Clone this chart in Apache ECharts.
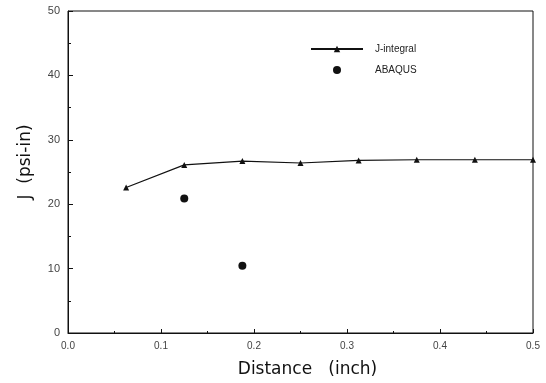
<!DOCTYPE html>
<html>
<head>
<meta charset="utf-8">
<script src="https://cdn.jsdelivr.net/npm/echarts@6/dist/echarts.min.js"></script>
<style>
  html, body { margin: 0; padding: 0; background: #fff; }
  #chart { width: 546px; height: 383px; }
</style>
</head>
<body>
<div id="chart"></div>
<script>
// J-integral along crack front vs distance
const distance = [0.0625, 0.125, 0.1875, 0.25, 0.3125, 0.375, 0.4375, 0.5];
const jIntegral = [22.6, 26.1, 26.7, 26.4, 26.8, 26.9, 26.9, 26.9];
const abaqusX = [0.125, 0.1875];
const abaqusJ = [20.9, 10.45];

const chart = echarts.init(document.getElementById('chart'));

const lineData = distance.map((d, i) => [d, jIntegral[i]]);
const dotData = abaqusX.map((d, i) => [d, abaqusJ[i]]);

const option = {
  backgroundColor: '#fff',
  animation: false,
  textStyle: {fontFamily: 'Liberation Sans'},
  grid: {
    left: 68,
    right: 13,
    top: 11,
    bottom: 50,
    show: true,
    borderColor: '#111',
    borderWidth: 1
  },
  legend: {
    orient: 'vertical',
    left: 305,
    top: 39,
    itemWidth: 52,
    itemHeight: 8,
    itemGap: 11,
    textStyle: {color: '#222', fontSize: 10, fontFamily: 'Liberation Sans', padding: [0, 0, 0, 7]},
    data: [
      {name: 'J-integral'},
      {name: 'ABAQUS', icon: 'circle'}
    ]
  },
  xAxis: {
    type: 'value',
    min: 0,
    max: 0.5,
    interval: 0.1,
    name: 'Distance   (inch)',
    nameLocation: 'middle',
    nameGap: 28,
    nameTextStyle: {fontSize: 17, color: '#111', fontFamily: 'DejaVu Sans', padding: [0, 0, 0, 14]},
    axisLine: {lineStyle: {color: '#111', width: 1}},
    axisTick: {inside: true, length: 4, lineStyle: {color: '#111'}},
    minorTick: {show: true, splitNumber: 2, length: 2, lineStyle: {color: '#111'}},
    axisLabel: {
      color: '#444',
      fontSize: 10,
      margin: 8,
      formatter: v => v.toFixed(1)
    },
    splitLine: {show: false}
  },
  yAxis: {
    type: 'value',
    min: 0,
    max: 50,
    interval: 10,
    name: 'J  (psi-in)',
    nameLocation: 'middle',
    nameGap: 34,
    nameTextStyle: {fontSize: 17, color: '#111', fontFamily: 'DejaVu Sans', padding: [0, 0, 0, 20]},
    axisLine: {lineStyle: {color: '#111', width: 1}},
    axisTick: {inside: true, length: 5, lineStyle: {color: '#111'}},
    minorTick: {show: true, splitNumber: 2, length: 3, lineStyle: {color: '#111'}},
    axisLabel: {color: '#444', fontSize: 11, margin: 8},
    splitLine: {show: false}
  },
  series: [
    {
      name: 'J-integral',
      type: 'line',
      data: lineData,
      symbol: 'triangle',
      symbolSize: 6,
      lineStyle: {color: '#111', width: 1.2},
      itemStyle: {color: '#111'}
    },
    {
      name: 'ABAQUS',
      type: 'scatter',
      data: dotData,
      symbol: 'circle',
      symbolSize: 8,
      itemStyle: {color: '#111', opacity: 1}
    }
  ]
};

chart.setOption(option);
</script>
</body>
</html>
